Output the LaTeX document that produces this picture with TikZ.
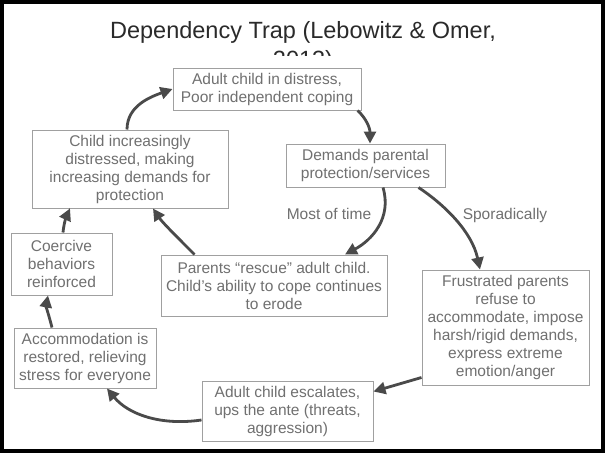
\documentclass[tikz,border=0pt]{standalone}
\usepackage{fontspec}
\setmainfont{Liberation Sans}
\usetikzlibrary{arrows.meta,calc}
\definecolor{boxline}{HTML}{A0A0A0}
\definecolor{boxtext}{HTML}{707070}
\definecolor{arrowgray}{HTML}{4A4A4A}
\definecolor{titleink}{HTML}{2A2A2A}
\begin{document}
\begin{tikzpicture}[x=1pt,y=-1pt,
  stage/.style={draw=boxline, line width=1pt, text=boxtext, align=center,
    inner sep=0pt, font=\fontsize{15.5}{18}\selectfont},
  edgelabel/.style={text=boxtext, inner sep=0pt, font=\fontsize{15.5}{18}\selectfont},
  flow/.style={draw=arrowgray, line width=2.8pt, -{Triangle[length=12pt,width=12pt]}},
  heading/.style={anchor=base, text=titleink, inner sep=0pt, font=\fontsize{23.5}{28}\selectfont},
]
\useasboundingbox (0,0) rectangle (605,453);
\fill[white] (0,0) rectangle (605,453);

% title, second line cut off at the top of the cycle
\node[heading] (title) at (303,38) {Dependency Trap (Lebowitz \& Omer,};
\begin{scope}
  \clip (0,0) rectangle (605,55);
  \node[heading] (year) at (303,67) {2013)};
\end{scope}

% stages of the cycle
\node[stage, minimum width=188pt, minimum height=42pt] (A) at (267,89)
  {Adult child in distress,\\Poor independent coping};
\node[stage, minimum width=159pt, minimum height=43pt] (B) at (365.5,165.5)
  {Demands parental\\protection/services};
\node[stage, minimum width=196pt, minimum height=78pt] (C) at (130,169)
  {Child increasingly\\distressed, making\\increasing demands for\\protection};
\node[stage, minimum width=101pt, minimum height=62pt] (D) at (61.5,264)
  {Coercive\\behaviors\\reinforced};
\node[stage, minimum width=226pt, minimum height=61pt] (E) at (274,285.5)
  {Parents “rescue” adult child.\\Child’s ability to cope continues\\to erode};
\node[stage, minimum width=167pt, minimum height=115pt] (F) at (505.5,327.5)
  {Frustrated parents\\refuse to\\accommodate, impose\\harsh/rigid demands,\\express extreme\\emotion/anger};
\node[stage, minimum width=171pt, minimum height=60pt] (G) at (287.5,411)
  {Adult child escalates,\\ups the ante (threats,\\aggression)};
\node[stage, minimum width=142pt, minimum height=60pt] (H) at (85,358)
  {Accommodation is\\restored, relieving\\stress for everyone};

% branch labels
\node[edgelabel] (most) at (329,214) {Most of time};
\node[edgelabel] (spor) at (505,215) {Sporadically};

% connectors
\draw[flow] ($(C.north)+(-3,0)$) .. controls (127,106) and (150,97) .. (A.west);
\draw[flow] ($(A.south east)+(-4,0)$) .. controls (366,118) and (370,128) .. ($(B.north)+(4.5,0)$);
\draw[flow] ($(B.south)+(17.5,0)$) .. controls (392,218) and (372,240) .. ($(E.north)+(71,0)$);
\draw[flow] ($(B.south east)+(-27,0)$) .. controls (445,205) and (472,232) .. ($(F.north)+(-25.5,0)$);
\draw[flow] ($(F.south west)+(0,-8)$) -- ($(G.north east)+(0,11)$);
\draw[flow] ($(G.west)+(0,9)$) .. controls (160,426) and (128,414) .. ($(H.south)+(22,0)$);
\draw[flow] ($(H.north)+(-33,0)$) .. controls (49,316) and (46,306) .. ($(D.south)+(-13.5,0)$);
\draw[flow] ($(D.north)+(1.5,0)$) .. controls (64,222) and (67,215) .. ($(C.south)+(-60,0)$);
\draw[flow] ($(E.north west)+(34,0)$) .. controls (178,238) and (162,222) .. ($(C.south)+(23,0)$);

% outer frame
\draw[line width=4pt] (2,2) rectangle (603,451);
\end{tikzpicture}
\end{document}
